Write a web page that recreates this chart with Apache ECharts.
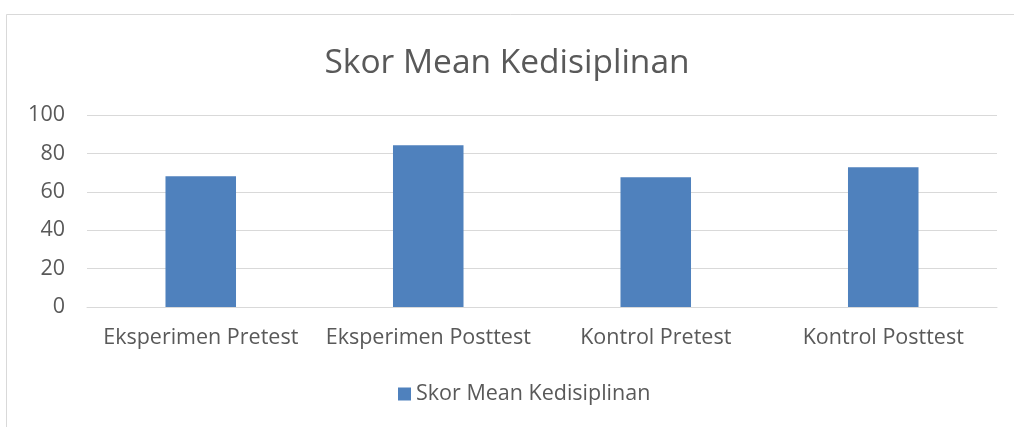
<!DOCTYPE html>
<html>
<head>
<meta charset="utf-8">
<script src="https://cdn.jsdelivr.net/npm/echarts@6/dist/echarts.min.js"></script>
<style>html,body{margin:0;padding:0;background:#fff}#c{width:1014px;height:427px}</style>
</head>
<body>
<div id="c"></div>
<script>
const titleText = "Skor Mean Kedisiplinan";
const categories = ["Eksperimen Pretest", "Eksperimen Posttest", "Kontrol Pretest", "Kontrol Posttest"];
const seriesName = "Skor Mean Kedisiplinan";
const values = [68.1, 84.3, 67.6, 72.8];
const yTicks = [0, 20, 40, 60, 80, 100];

const font = "'Open Sans', 'Liberation Sans', sans-serif";
const chart = echarts.init(document.getElementById('c'), null, {renderer: 'canvas'});
chart.setOption({
  animation: false,
  backgroundColor: '#ffffff',
  graphic: [{
    type: 'rect', left: 4, top: 12,
    shape: {width: 1030, height: 440},
    style: {fill: 'none', stroke: '#d9d9d9', lineWidth: 1}
  }],
  title: {
    text: titleText, left: 'center', top: 41,
    textStyle: {fontFamily: font, fontSize: 33.5, fontWeight: 'normal', color: '#595959'}
  },
  legend: {
    bottom: 17, left: 393, itemWidth: 13, itemHeight: 13, icon: 'rect', itemGap: 10,
    textStyle: {fontFamily: font, fontSize: 21.5, color: '#595959'},
    data: [seriesName]
  },
  grid: {left: 87, right: 17, top: 115, bottom: 120, containLabel: false},
  xAxis: {
    type: 'category', data: categories,
    axisLine: {show: true, lineStyle: {color: '#d9d9d9'}},
    axisTick: {show: false},
    axisLabel: {fontFamily: font, fontSize: 21.5, color: '#595959', margin: 20, interval: 0}
  },
  yAxis: {
    type: 'value', min: yTicks[0], max: yTicks[yTicks.length - 1], interval: 20,
    axisLine: {show: false}, axisTick: {show: false},
    axisLabel: {fontFamily: font, fontSize: 21.5, color: '#595959', margin: 22},
    splitLine: {lineStyle: {color: '#d9d9d9', width: 1}}
  },
  series: [{
    name: seriesName, type: 'bar', data: values, barWidth: '31%',
    itemStyle: {color: '#4f81bd'}
  }]
});
</script>
</body>
</html>
